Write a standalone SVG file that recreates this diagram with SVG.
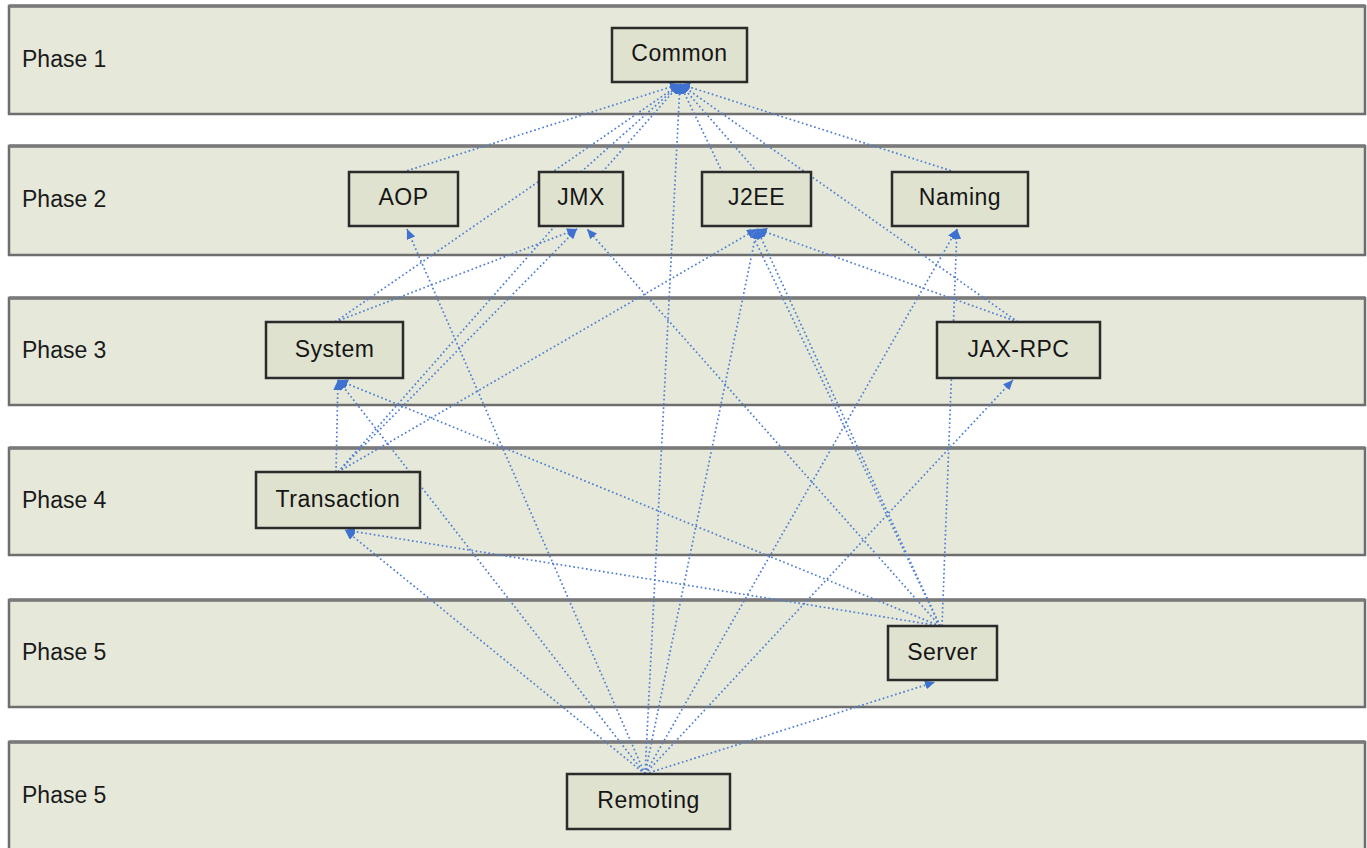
<svg xmlns="http://www.w3.org/2000/svg" width="1367" height="848" viewBox="0 0 1367 848">
  <style>
    .lane { fill: #e6e9da; stroke: #6e6e6e; stroke-width: 2.5; }
    .lane-top { stroke: #7a7a7a; stroke-width: 3.5; }
    .lane-label { font-family: "Liberation Sans", Arial, sans-serif; font-size: 23px; fill: #1a1a1a; }
    .node rect { fill: #dfe2ce; stroke: #2b2b2b; stroke-width: 2.5; }
    .node text { font-family: "Liberation Sans", Arial, sans-serif; font-size: 23px; fill: #151515; text-anchor: middle; letter-spacing: 0.5px; }
    .dep { fill: none; stroke: #4f7fd3; stroke-width: 1.7; stroke-dasharray: 1.7 2.6; marker-end: url(#arrow); }
  </style>
  <defs>
    <marker id="arrow" markerUnits="userSpaceOnUse" markerWidth="11" markerHeight="9" refX="10" refY="4.5" orient="auto">
      <path d="M0,0 L10,4.5 L0,9 Z" fill="#3f72d0"/>
    </marker>
  </defs>

  <rect width="1367" height="848" fill="#ffffff"/>

  <!-- phase swimlanes -->
  <g id="lanes">
    <rect class="lane" x="9" y="6" width="1356" height="108"/>
    <rect class="lane" x="9" y="146" width="1356" height="109"/>
    <rect class="lane" x="9" y="298" width="1356" height="107"/>
    <rect class="lane" x="9" y="448" width="1356" height="107"/>
    <rect class="lane" x="9" y="600" width="1356" height="107"/>
    <rect class="lane" x="9" y="742" width="1356" height="110"/>
    <line class="lane-top" x1="9" y1="6" x2="1365" y2="6"/>
    <line class="lane-top" x1="9" y1="146" x2="1365" y2="146"/>
    <line class="lane-top" x1="9" y1="298" x2="1365" y2="298"/>
    <line class="lane-top" x1="9" y1="448" x2="1365" y2="448"/>
    <line class="lane-top" x1="9" y1="600" x2="1365" y2="600"/>
    <line class="lane-top" x1="9" y1="742" x2="1365" y2="742"/>
    <text class="lane-label" x="22" y="67">Phase 1</text>
    <text class="lane-label" x="22" y="207">Phase 2</text>
    <text class="lane-label" x="22" y="358">Phase 3</text>
    <text class="lane-label" x="22" y="508">Phase 4</text>
    <text class="lane-label" x="22" y="660">Phase 5</text>
    <text class="lane-label" x="22" y="803">Phase 5</text>
  </g>

  <!-- dependency connectors -->
  <g id="connectors">
    <line class="dep" x1="403" y1="172" x2="680" y2="84"/>
    <line class="dep" x1="581" y1="172" x2="680" y2="84"/>
    <line class="dep" x1="757" y1="172" x2="680" y2="84"/>
    <line class="dep" x1="955" y1="172" x2="680" y2="84"/>
    <line class="dep" x1="335" y1="322" x2="680" y2="84"/>
    <line class="dep" x1="335" y1="322" x2="577" y2="229"/>
    <line class="dep" x1="1018" y1="322" x2="680" y2="84"/>
    <line class="dep" x1="1018" y1="322" x2="757" y2="229"/>
    <line class="dep" x1="336" y1="472" x2="338" y2="380"/>
    <line class="dep" x1="338" y1="472" x2="577" y2="229"/>
    <line class="dep" x1="338" y1="472" x2="680" y2="84"/>
    <line class="dep" x1="338" y1="472" x2="757" y2="229"/>
    <line class="dep" x1="940" y1="626" x2="680" y2="84"/>
    <line class="dep" x1="940" y1="626" x2="757" y2="229"/>
    <line class="dep" x1="940" y1="626" x2="587" y2="229"/>
    <line class="dep" x1="942" y1="626" x2="957" y2="229"/>
    <line class="dep" x1="940" y1="626" x2="338" y2="380"/>
    <line class="dep" x1="940" y1="626" x2="345" y2="530"/>
    <line class="dep" x1="645" y1="774" x2="680" y2="84"/>
    <line class="dep" x1="645" y1="774" x2="407" y2="229"/>
    <line class="dep" x1="645" y1="774" x2="338" y2="380"/>
    <line class="dep" x1="645" y1="774" x2="345" y2="530"/>
    <line class="dep" x1="645" y1="774" x2="757" y2="229"/>
    <line class="dep" x1="645" y1="774" x2="957" y2="229"/>
    <line class="dep" x1="645" y1="774" x2="1013" y2="380"/>
    <line class="dep" x1="645" y1="774" x2="935" y2="682"/>
  </g>

  <!-- modules -->
  <g id="common" class="node"><rect x="612" y="28" width="135" height="54"/><text x="679.5" y="61">Common</text></g>
  <g id="aop" class="node"><rect x="349" y="172" width="109" height="54"/><text x="403.5" y="205">AOP</text></g>
  <g id="jmx" class="node"><rect x="539" y="172" width="84" height="54"/><text x="581" y="205">JMX</text></g>
  <g id="j2ee" class="node"><rect x="702" y="172" width="109" height="54"/><text x="756.5" y="205">J2EE</text></g>
  <g id="naming" class="node"><rect x="892" y="172" width="136" height="54"/><text x="960" y="205">Naming</text></g>
  <g id="system" class="node"><rect x="266" y="322" width="137" height="56"/><text x="334.5" y="357">System</text></g>
  <g id="jax-rpc" class="node"><rect x="937" y="322" width="163" height="56"/><text x="1018.5" y="357">JAX-RPC</text></g>
  <g id="transaction" class="node"><rect x="256" y="472" width="164" height="56"/><text x="338" y="507">Transaction</text></g>
  <g id="server" class="node"><rect x="888" y="626" width="109" height="54"/><text x="942.5" y="660">Server</text></g>
  <g id="remoting" class="node"><rect x="567" y="774" width="163" height="55"/><text x="648.5" y="808">Remoting</text></g>
</svg>
